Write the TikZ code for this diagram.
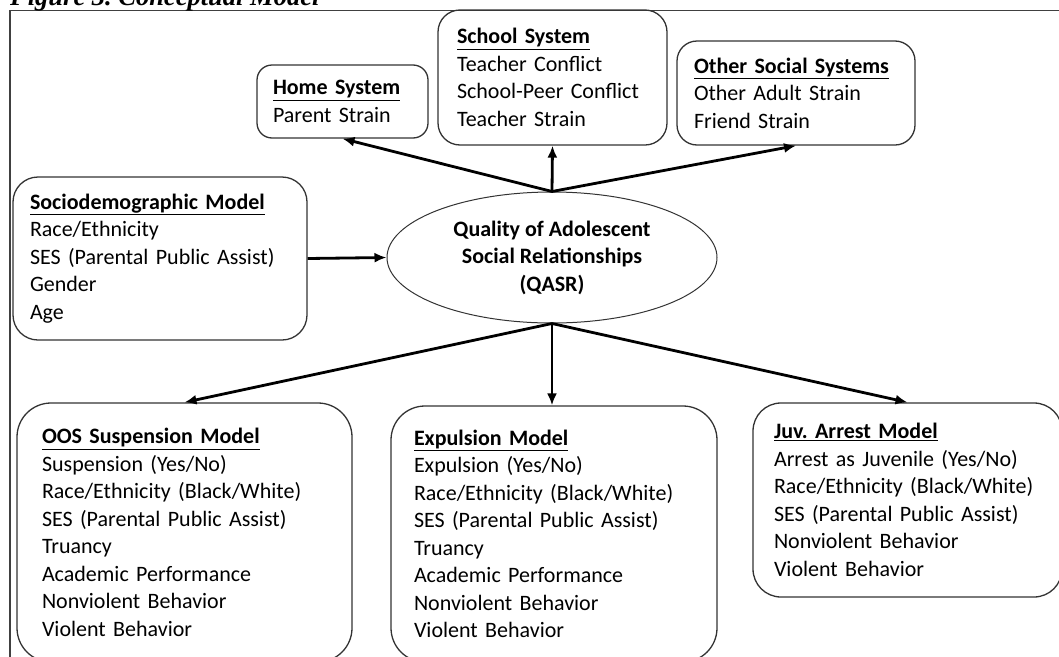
\documentclass[tikz,border=0pt]{standalone}
\usepackage{fontspec}
\setmainfont{Carlito}
\newfontfamily\capfont{Liberation Serif}
\usetikzlibrary{shapes.geometric, arrows.meta}
\newcommand{\hd}[1]{\underline{\textbf{#1}}}
\frenchspacing

\tikzset{
    sysbox/.style={draw=black!80, line width=1.3pt, rounded corners=18pt, align=left,
        inner xsep=#1, inner ysep=4pt, font=\fontsize{22}{27.5}\selectfont},
    modelbox/.style={sysbox=#1, rounded corners=34pt},
    qasr/.style={draw=black!80, line width=1pt, ellipse, inner sep=0pt, align=center,
        minimum width=330pt, minimum height=131pt, font=\fontsize{22}{27.5}\selectfont\bfseries},
    link/.style={-{Latex[length=12pt,width=10pt]}, line width=2.8pt},
}

\begin{document}
\begin{tikzpicture}[x=1pt, y=-1pt]
    \useasboundingbox (0,0) rectangle (1059,656);
    \draw[line width=1.3pt, black!75] (10,690) -- (10,10.5) -- (1090,10.5);
    \node[anchor=base west, inner sep=0pt, font=\capfont\bfseries\itshape\fontsize{26.5}{26.5}\selectfont]
        (title) at (10,5) {Figure 3. Conceptual Model};

    \node[qasr](q)                                          at (552,257.5)
        {Quality of Adolescent\\Social Relationships\\(QASR)};
    \node[sysbox=16pt, text width=139pt, minimum height=73pt, rounded corners=15pt](home) at (342.5,101.5)
        {\hd{Home System}\\Parent Strain};
    \node[sysbox=19pt, text width=191pt, minimum height=135pt, rounded corners=22pt](school) at (552.5,77.5)
        {\hd{School System}\\Teacher Conflict\\School-Peer Conflict\\Teacher Strain};
    \node[sysbox=17pt, text width=204pt, minimum height=104pt, rounded corners=20pt](other) at (796,93)
        {\hd{Other Social Systems}\\Other Adult Strain\\Friend Strain};
    \node[sysbox=17pt, text width=260pt, minimum height=163pt, rounded corners=25pt](socio) at (160,258.5)
        {\hd{Sociodemographic Model}\\Race/Ethnicity\\SES (Parental Public Assist)\\Gender\\Age};
    \node[modelbox=25pt, text width=285pt, minimum height=259pt](oos)   at (184.5,532.5)
        {\hd{OOS Suspension Model}\\Suspension\ (Yes/No)\\Race/Ethnicity (Black/White)\\SES (Parental Public Assist)\\Truancy\\Academic Performance\\Nonviolent Behavior\\Violent Behavior};
    \node[modelbox=23pt, text width=280pt, minimum height=256pt](expul) at (554,534)
        {\hd{Expulsion Model}\\Expulsion (Yes/No)\\Race/Ethnicity (Black/White)\\SES (Parental Public Assist)\\Truancy\\Academic Performance\\Nonviolent Behavior\\Violent Behavior};
    \node[modelbox=21pt, text width=267pt, minimum height=194pt, rounded corners=28pt](juv) at (907.5,500)
        {\hd{Juv. Arrest Model}\\Arrest as Juvenile (Yes/No)\\Race/Ethnicity (Black/White)\\SES (Parental Public Assist)\\Nonviolent Behavior\\Violent Behavior};

    % Paths
    \path
        (q.north)
            edge [link] (home.south)
            edge [link] (school.south)
            edge [link] (other.south)
        (socio.east)
            edge [link] (q.west)
        (q.south)
            edge [link] (oos.north)
            edge [link] (q.south |- expul.north)
            edge [link] (juv.north)
        ;
\end{tikzpicture}
\end{document}
